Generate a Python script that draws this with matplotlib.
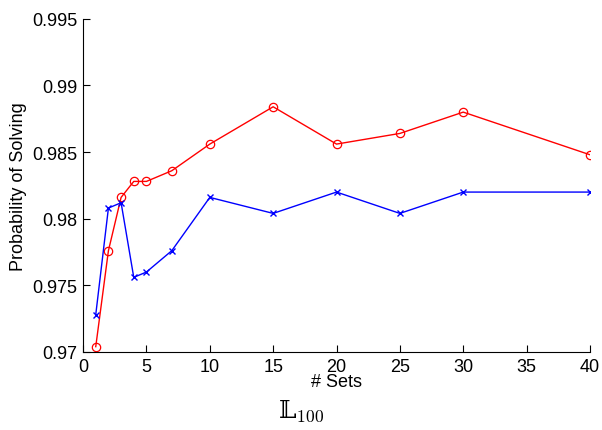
import matplotlib as mpl
import matplotlib.pyplot as plt

mpl.rcParams['font.family'] = ['Liberation Sans', 'DejaVu Sans']
mpl.rcParams['mathtext.fontset'] = 'cm'

# data
sets = [1, 2, 3, 4, 5, 7, 10, 15, 20, 25, 30, 40]
red_prob = [0.9704, 0.9776, 0.9816, 0.9828, 0.9828, 0.9836, 0.9856,
            0.9884, 0.9856, 0.9864, 0.9880, 0.9848]
blue_prob = [0.9728, 0.9808, 0.9812, 0.9756, 0.9760, 0.9776, 0.9816,
             0.9804, 0.9820, 0.9804, 0.9820, 0.9820]
xticks = [0, 5, 10, 15, 20, 25, 30, 35, 40]
yticks = [0.97, 0.975, 0.98, 0.985, 0.99, 0.995]
ytick_labels = ['0.97', '0.975', '0.98', '0.985', '0.99', '0.995']

fig = plt.figure(figsize=(6.02, 4.31), dpi=100)
ax = fig.add_axes([0.138, 0.181, 0.842, 0.773])

ax.plot(sets, red_prob, '-o', color='red', lw=1, ms=6, mfc='none', mew=0.9)
ax.plot(sets, blue_prob, '-x', color='blue', lw=1, ms=4.5, mew=1)

ax.set_xlim(0, 40)
ax.set_ylim(0.97, 0.995)
ax.set_xticks(xticks)
ax.set_yticks(yticks)
ax.set_yticklabels(ytick_labels)
ax.tick_params(direction='in', labelsize=13, length=5, width=0.8, pad=4)

for s in ['top', 'right']:
    ax.spines[s].set_visible(False)
for s in ['left', 'bottom']:
    ax.spines[s].set_linewidth(0.8)

ax.set_xlabel('# Sets', fontsize=13, labelpad=-1)
ax.set_ylabel('Probability of Solving', fontsize=13, labelpad=4)

# caption: double-struck L with subscript
fig.text(0.5, 0.045, '\U0001D543$_{100}$', ha='center', va='center',
         fontsize=18, family=['DejaVu Serif'])

plt.savefig('out.png', dpi=100)
plt.close()
